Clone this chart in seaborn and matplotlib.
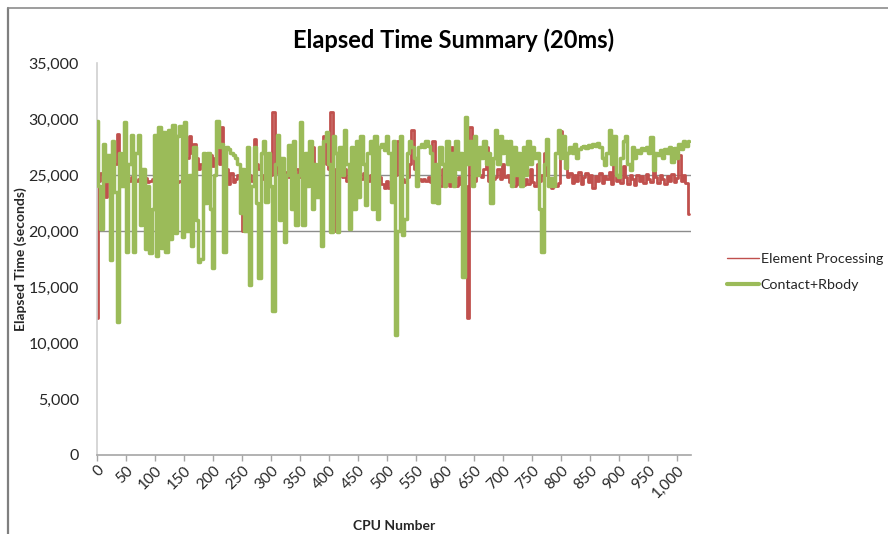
import numpy as np
import pandas as pd
import matplotlib
matplotlib.use("Agg")
import matplotlib.pyplot as plt
from matplotlib.lines import Line2D
from matplotlib.ticker import FuncFormatter, MultipleLocator
import seaborn as sns

# ---------------- data (CPU number sampled every 4 CPUs) ----------------
cpu = list(range(0, 1024, 4))

element_processing = [
    12200, 24500, 25200, 24600, 23000, 25000, 24800, 25500,
    26000, 28700, 25000, 24800, 25200, 24600, 24500, 24800,
    24400, 24500, 24600, 24400, 24500, 24700, 24400, 24500,
    24600, 24400, 24500, 24300, 24400, 24500, 24400, 24300,
    24500, 24400, 24300, 24400, 24500, 24300, 25500, 26500,
    28500, 27000, 27800, 26500, 25500, 26000, 25500, 27000,
    26000, 26800, 25800, 26500, 27500, 26000, 29300, 27000,
    25500, 24200, 25200, 24400, 24600, 25000, 24500, 20000,
    24500, 25500, 25000, 24500, 28200, 26000, 25500, 24600,
    25000, 24500, 25500, 25000, 30600, 25200, 26000, 26000,
    25800, 24800, 25300, 24800, 25000, 24600, 25500, 25000,
    24800, 25500, 24700, 25300, 26000, 27500, 25500, 26000,
    24800, 25800, 28500, 26000, 25500, 30600, 20000, 25500,
    24500, 25500, 24800, 25500, 24500, 25300, 24800, 25500,
    24400, 25000, 24600, 25200, 24800, 24500, 25000, 24600,
    25000, 24400, 24800, 24200, 23800, 24500, 23800, 24500,
    24200, 25000, 28000, 25000, 24600, 24400, 24800, 26000,
    29000, 25500, 24800, 24600, 24500, 24600, 24500, 24800,
    24400, 28000, 25500, 24500, 24000, 25500, 24200, 25000,
    24000, 27500, 24500, 24000, 24800, 24200, 24500, 24000,
    12200, 29300, 25500, 24500, 27000, 25000, 24800, 25500,
    27500, 24500, 25000, 24600, 24800, 25500, 24600, 26000,
    24800, 25000, 24400, 24600, 24000, 24800, 24200, 24700,
    24100, 24600, 24200, 25500, 24400, 24000, 26000, 24500,
    25000, 27000, 25000, 24500, 23800, 24500, 24000, 24300,
    28900, 27500, 26000, 24800, 25200, 24300, 25000, 24500,
    25300, 24200, 24800, 25200, 24400, 25000, 23800, 24900,
    24500, 25200, 24300, 24900, 24600, 25300, 24200, 26000,
    24500, 25000, 24300, 25800, 24800, 24200, 25000, 24600,
    24100, 25000, 24500, 24900, 24300, 25100, 24600, 24400,
    25500, 24800, 24300, 25000, 24600, 24200, 24900, 24500,
    25100, 24400, 24700, 26800, 24500, 25000, 24300, 21500,
]

contact_rbody = [
    29800, 24000, 20200, 27800, 24500, 26800, 17400, 28000,
    23500, 11900, 27000, 24000, 29700, 18100, 26000, 28600,
    18100, 27000, 28600, 20500, 25500, 18400, 24000, 18000,
    22000, 28600, 17800, 29300, 18500, 28800, 18100, 29000,
    19300, 29500, 19800, 28500, 29400, 19500, 29700, 20000,
    25000, 18700, 27500, 21000, 17200, 17500, 27000, 22500,
    27000, 22000, 16700, 25000, 29800, 27500, 27800, 18100,
    27500, 27300, 27000, 26800, 26500, 26000, 21600, 25500,
    20000, 27500, 15200, 24000, 27500, 22500, 15800, 27000,
    28000, 22600, 27000, 24000, 12900, 26000, 28600, 21000,
    26500, 19000, 25000, 27700, 22000, 28000, 20500, 25000,
    29700, 20500, 27000, 24000, 28000, 22000, 26000, 23000,
    27500, 18700, 28000, 28800, 26000, 19900, 28500, 27000,
    19900, 27500, 25000, 29000, 26000, 20200, 27500, 22000,
    28000, 23000, 28500, 26000, 22300, 27000, 28000, 22000,
    28500, 21100, 27500, 27800, 27200, 28500, 27000, 22600,
    28000, 10700, 20000, 28500, 19600, 21100, 27000, 28000,
    27500, 26500, 24000, 27500, 27800, 27500, 28000, 27600,
    27000, 22600, 26000, 22500, 27500, 26000, 24000, 28000,
    24500, 27000, 24000, 28000, 25500, 27000, 15900, 30200,
    26000, 28000, 24000, 28500, 25000, 27500, 26500, 28000,
    26000, 27000, 22500, 26500, 29000, 26000, 28500, 27000,
    28000, 26000, 28000, 24000, 27500, 25000, 27000, 24000,
    27500, 25000, 28000, 26000, 27500, 26500, 27000, 22000,
    18150, 26000, 28200, 24000, 24700, 24000, 27000, 29000,
    26500, 28500, 25600, 27000, 27500, 27000, 27800, 26500,
    27300, 27500, 27600, 27400, 27700, 27500, 27800, 27600,
    27900, 27500, 26500, 25900, 27000, 29000, 26000, 28500,
    25000, 24850, 26500, 28000, 28500, 26000, 25450, 27500,
    26500, 27200, 27000, 27400, 27200, 27500, 27000, 28400,
    25450, 27000, 26800, 27200, 26500, 27300, 27000, 27500,
    26200, 27400, 26500, 27800, 27300, 28000, 27600, 28000,
]

series_names = ["Element Processing", "Contact+Rbody"]
grid_levels = [20000, 25000]
x_ticks = list(range(0, 1001, 50))
title = "Elapsed Time Summary (20ms)"
x_label = "CPU Number"
y_label = "Elapsed Time (seconds)"

# ---------------- style ----------------
sns.set_theme(style="white")
plt.rcParams["font.family"] = ["Lato", "DejaVu Sans"]

red = "#C0504D"
green = "#9BBB59"
txt = "#262626"

df = pd.DataFrame({
    "cpu": cpu + cpu,
    "time": element_processing + contact_rbody,
    "series": [series_names[0]] * len(cpu) + [series_names[1]] * len(cpu),
})

fig = plt.figure(figsize=(8.88, 5.34), dpi=100)
ax = fig.add_axes([97 / 888, 79 / 534, 594 / 888, 392 / 534])

for lvl in grid_levels:
    ax.axhline(lvl, color="#8C8C8C", lw=1.0, zorder=1)

sns.lineplot(data=df[df.series == series_names[0]], x="cpu", y="time",
             color=red, lw=2.0, estimator=None, ax=ax, zorder=2,
             drawstyle="steps-mid", label=series_names[0])
sns.lineplot(data=df[df.series == series_names[1]], x="cpu", y="time",
             color=green, lw=2.5, estimator=None, ax=ax, zorder=3,
             drawstyle="steps-mid", label=series_names[1])

ax.set_xlim(0, 1024)
ax.set_ylim(0, 35000)
ax.set_xticks(x_ticks)
ax.yaxis.set_major_locator(MultipleLocator(5000))
comma = FuncFormatter(lambda v, p: f"{int(v):,}")
ax.xaxis.set_major_formatter(comma)
ax.yaxis.set_major_formatter(comma)

for lab in ax.get_xticklabels():
    lab.set_rotation(45)
    lab.set_ha("right")
    lab.set_va("top")
    lab.set_rotation_mode("anchor")
ax.tick_params(axis="x", bottom=True, length=4, width=1, color="#A6A6A6",
               labelsize=11, pad=2, labelcolor=txt)
ax.tick_params(axis="y", left=False, length=0, labelsize=11.5, pad=13, labelcolor=txt)

for s in ["top", "right"]:
    ax.spines[s].set_visible(False)
ax.spines["left"].set_color("#D0D0D0")
ax.spines["left"].set_linewidth(1.2)
ax.spines["bottom"].set_color("#A6A6A6")
ax.spines["bottom"].set_linewidth(1.2)

ax.set_xlabel(x_label, fontsize=10, fontweight="bold", color=txt)
ax.set_ylabel(y_label, fontsize=10, fontweight="bold", color=txt)
ax.yaxis.set_label_coords(-0.118, 0.5)
ax.xaxis.set_label_coords(0.5, -0.166)

fig.text(454 / 888, 1 - 40 / 534, title, ha="center", va="center",
         fontsize=17, fontweight="bold", color="black")

handles = [Line2D([], [], color=red, lw=1.0), Line2D([], [], color=green, lw=3.0)]
fig.legend(handles, series_names, loc="center left",
           bbox_to_anchor=(727 / 888, 1 - 272 / 534), frameon=False,
           borderpad=0, borderaxespad=0,
           fontsize=10.3, handlelength=2.25, handletextpad=0.1, labelspacing=1.0,
           labelcolor=txt)
if ax.get_legend() is not None:
    ax.get_legend().remove()

# chart-area border (only top and left edges visible in the crop)
fig.add_artist(Line2D([8 / 888, 8 / 888], [0, 1 - 8 / 534], transform=fig.transFigure,
                      color="#7F7F7F", lw=1.6))
fig.add_artist(Line2D([8 / 888, 1], [1 - 8 / 534, 1 - 8 / 534], transform=fig.transFigure,
                      color="#8C8C8C", lw=1.2))

fig.savefig("out.png", dpi=100)
